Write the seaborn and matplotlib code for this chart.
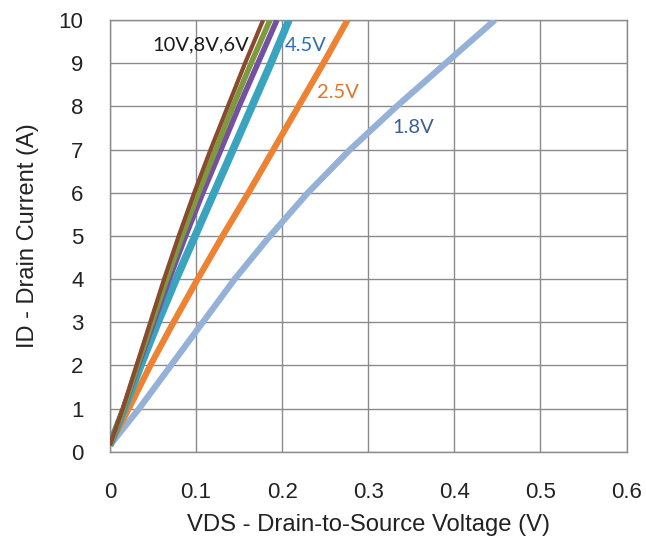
import matplotlib
matplotlib.use('Agg')
import matplotlib.pyplot as plt
import seaborn as sns
import pandas as pd

# drain current steps (A) and the VDS read at each step for every gate voltage
current_a = [0.15, 1, 2, 3, 4, 5, 6, 7, 8, 9, 10]
vds_10v = [0, 0.015, 0.031, 0.047, 0.063, 0.080, 0.098, 0.117, 0.137, 0.157, 0.178]
vds_8v = [0, 0.016, 0.032, 0.049, 0.066, 0.084, 0.103, 0.123, 0.143, 0.164, 0.186]
vds_6v = [0, 0.016, 0.033, 0.051, 0.069, 0.088, 0.108, 0.129, 0.150, 0.172, 0.194]
vds_4v5 = [0, 0.017, 0.036, 0.056, 0.077, 0.099, 0.121, 0.143, 0.165, 0.187, 0.208]
vds_2v5 = [0, 0.022, 0.047, 0.074, 0.102, 0.131, 0.161, 0.190, 0.219, 0.248, 0.276]
vds_1v8 = [0, 0.034, 0.071, 0.108, 0.145, 0.186, 0.230, 0.279, 0.333, 0.390, 0.447]

series_names = ['1.8V', '2.5V', '4.5V', '6V', '8V', '10V']
series_vds = [vds_1v8, vds_2v5, vds_4v5, vds_6v, vds_8v, vds_10v]
palette = {'1.8V': '#95B1D8', '2.5V': '#EE8233', '4.5V': '#3AA3BE',
           '6V': '#7451A0', '8V': '#7E9A3E', '10V': '#8A4A2E'}
widths = {'1.8V': 4.5, '2.5V': 4.5, '4.5V': 5.5, '6V': 4, '8V': 4, '10V': 3}

x_ticks = [0, 0.1, 0.2, 0.3, 0.4, 0.5, 0.6]
y_ticks = list(range(0, 11))

rows = []
for name, vals in zip(series_names, series_vds):
    for v, i in zip(vals, current_a):
        rows.append({'vds': v, 'id': i, 'vgs': name})
df = pd.DataFrame(rows)

sns.set_style('white')
plt.rcParams['font.family'] = ['Liberation Sans', 'DejaVu Sans']

fig, ax = plt.subplots(figsize=(6.46, 5.41), dpi=100)
fig.subplots_adjust(left=0.17, right=0.97, bottom=0.165, top=0.963)

for name in series_names:
    sub = df[df['vgs'] == name]
    sns.lineplot(data=sub, x='vds', y='id', color=palette[name], linewidth=widths[name],
                 sort=False, ax=ax, solid_capstyle='butt', zorder=3)

ax.set_xlim(0, 0.6)
ax.set_ylim(0, 10)
ax.set_xticks(x_ticks)
ax.set_xticklabels([f'{t:g}' for t in x_ticks])
ax.set_yticks(y_ticks)
ax.grid(True, color='#8A8A8A', linewidth=1.0, zorder=0)
ax.set_axisbelow(True)
for s in ax.spines.values():
    s.set_color('#8A8A8A')
    s.set_linewidth(1.0)
ax.tick_params(axis='both', length=0, labelsize=16, colors='#222222')
ax.tick_params(axis='x', pad=22)
ax.tick_params(axis='y', pad=19)
ax.set_xlabel('VDS - Drain-to-Source Voltage (V)', fontsize=17.2, color='#222222', labelpad=8)
ax.set_ylabel('ID - Drain Current (A)', fontsize=17, color='#222222', labelpad=14)

lab_font = ['Lato', 'DejaVu Sans']
ax.text(0.049, 9.42, '10V,8V,6V', fontsize=14.5, color='#1A1A1A', family=lab_font, va='center')
ax.text(0.203, 9.42, '4.5V', fontsize=14.5, color='#2C6FB3', family=lab_font, va='center')
ax.text(0.241, 8.33, '2.5V', fontsize=14.5, color='#E0762C', family=lab_font, va='center')
ax.text(0.328, 7.52, '1.8V', fontsize=14.5, color='#3E5E93', family=lab_font, va='center')

fig.savefig('out.png', dpi=100)
